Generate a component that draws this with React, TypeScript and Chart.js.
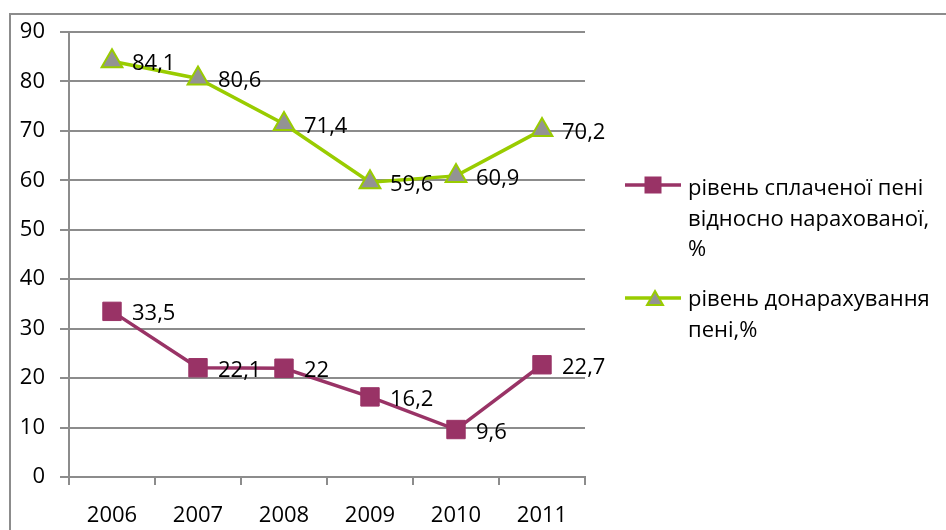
import { useEffect, useRef } from 'react';
import { Chart, registerables } from 'chart.js';

Chart.register(...registerables);

const years = ['2006', '2007', '2008', '2009', '2010', '2011'];
const paidShare = [33.5, 22.1, 22, 16.2, 9.6, 22.7];
const extraCharge = [84.1, 80.6, 71.4, 59.6, 60.9, 70.2];
const paidName = ['рівень сплаченої пені', 'відносно нарахованої,', '%'];
const extraName = ['рівень донарахування', 'пені,%'];
const yMin = 0;
const yMax = 90;
const yStep = 10;

const FONT = '"Open Sans", "DejaVu Sans", sans-serif';
const PURPLE = '#993366';
const GREEN = '#99CC00';
const GREY_FILL = '#939393';
const GRID = '#8c8c8c';

const fmt = (v: number) => String(v).replace('.', ',');

function drawSquare(ctx: CanvasRenderingContext2D, x: number, y: number, s: number, color: string) {
  ctx.fillStyle = color;
  ctx.fillRect(x - s / 2, y - s / 2, s, s);
}

function drawTriangle(ctx: CanvasRenderingContext2D, x: number, y: number, w: number, h: number) {
  ctx.beginPath();
  ctx.moveTo(x, y - h / 2);
  ctx.lineTo(x + w / 2, y + h / 2);
  ctx.lineTo(x - w / 2, y + h / 2);
  ctx.closePath();
  ctx.fillStyle = GREY_FILL;
  ctx.fill();
  ctx.lineWidth = 2;
  ctx.strokeStyle = GREEN;
  ctx.stroke();
}

const framePlugin = {
  id: 'frame',
  beforeDraw(chart: any) {
    const ctx = chart.ctx;
    ctx.save();
    ctx.fillStyle = '#ffffff';
    ctx.fillRect(0, 0, chart.width, chart.height);
    ctx.strokeStyle = GRID;
    ctx.lineWidth = 2;
    ctx.strokeRect(10, 14, chart.width + 20, chart.height + 20);
    ctx.restore();
  },
};

const labelPlugin = {
  id: 'valueLabels',
  afterDatasetsDraw(chart: any) {
    const ctx = chart.ctx;
    ctx.save();
    ctx.font = `22px ${FONT}`;
    ctx.fillStyle = '#000';
    ctx.textAlign = 'left';
    ctx.textBaseline = 'alphabetic';
    chart.data.datasets.forEach((ds: any, i: number) => {
      const meta = chart.getDatasetMeta(i);
      meta.data.forEach((pt: any, j: number) => {
        ctx.fillText(fmt(ds.data[j]), pt.x + 20, pt.y + 9);
      });
    });
    ctx.restore();
  },
};

const legendPlugin = {
  id: 'sideLegend',
  afterDraw(chart: any) {
    const ctx = chart.ctx;
    const items = [
      { lines: paidName, color: PURPLE, kind: 'square' },
      { lines: extraName, color: GREEN, kind: 'triangle' },
    ];
    const lineX0 = 625;
    const lineX1 = 681;
    const textX = 688;
    const lh = 30.5;
    const gap = 19.5;
    let base = 195;
    ctx.save();
    ctx.font = `22px ${FONT}`;
    ctx.textAlign = 'left';
    ctx.textBaseline = 'alphabetic';
    items.forEach((it) => {
      const my = base - (it.kind === 'square' ? 10 : 8);
      ctx.strokeStyle = it.color;
      ctx.lineWidth = 3.5;
      ctx.beginPath();
      ctx.moveTo(lineX0, my);
      ctx.lineTo(lineX1, my);
      ctx.stroke();
      if (it.kind === 'square') drawSquare(ctx, 653, my, 17, PURPLE);
      else drawTriangle(ctx, 655, my, 16, 14);
      ctx.fillStyle = '#000';
      it.lines.forEach((t, k) => ctx.fillText(t, textX, base + k * lh));
      base += it.lines.length * lh + gap;
    });
    ctx.restore();
  },
};

export default function App() {
  const ref = useRef<HTMLCanvasElement | null>(null);

  useEffect(() => {
    if (!ref.current) return;
    const chart = new Chart(ref.current, {
      type: 'line',
      data: {
        labels: years,
        datasets: [
          {
            label: paidName.join(' '),
            data: paidShare,
            borderColor: PURPLE,
            backgroundColor: PURPLE,
            borderWidth: 3.5,
            pointStyle: 'rect',
            pointRadius: 13,
            pointBorderWidth: 1,
            pointBackgroundColor: PURPLE,
            pointBorderColor: PURPLE,
            tension: 0,
          },
          {
            label: extraName.join(' '),
            data: extraCharge,
            borderColor: GREEN,
            backgroundColor: GREY_FILL,
            borderWidth: 3.5,
            pointStyle: 'triangle',
            pointRadius: 12,
            pointBorderWidth: 2,
            pointBackgroundColor: GREY_FILL,
            pointBorderColor: GREEN,
            tension: 0,
          },
        ],
      },
      options: {
        animation: false,
        responsive: false,
        layout: { padding: { left: 0, right: 361, top: 32, bottom: 0 } },
        plugins: {
          legend: { display: false },
          tooltip: { enabled: false },
        },
        scales: {
          x: {
            offset: true,
            grid: {
              offset: true,
              drawOnChartArea: false,
              drawTicks: true,
              tickLength: 8,
              color: GRID,
              lineWidth: 2,
            },
            border: { color: GRID, width: 2 },
            ticks: {
              color: '#000',
              font: { family: FONT, size: 22 },
              padding: 18,
              maxRotation: 0,
            },
            afterFit: (s: any) => {
              s.height = 53;
            },
          },
          y: {
            min: yMin,
            max: yMax,
            grid: {
              color: GRID,
              lineWidth: 2,
              tickLength: 9,
            },
            border: { color: GRID, width: 2 },
            ticks: {
              stepSize: yStep,
              color: '#000',
              font: { family: FONT, size: 22 },
              padding: 15,
            },
            afterFit: (s: any) => {
              s.width = 69;
            },
          },
        },
      },
      plugins: [framePlugin, labelPlugin, legendPlugin],
    });
    return () => chart.destroy();
  }, []);

  return (
    <div style={{ position: 'fixed', left: 0, top: 0, width: 946, height: 530 }}>
      <canvas ref={ref} width={946} height={530} style={{ display: 'block' }} />
    </div>
  );
}
